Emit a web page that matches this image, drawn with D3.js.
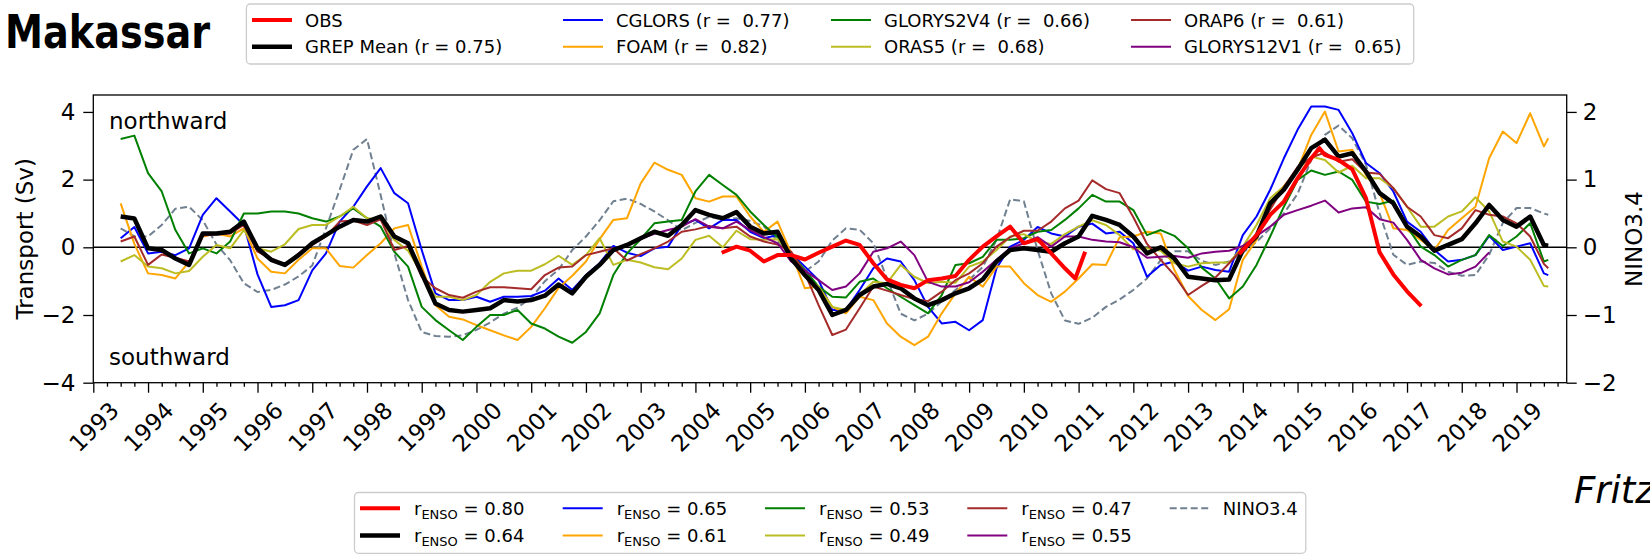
<!DOCTYPE html>
<html><head><meta charset="utf-8">
<script src="https://cdn.jsdelivr.net/npm/d3@7"></script>
<style>
body{margin:0;background:#fff;}
text{font-family:"DejaVu Sans",sans-serif;}
</style></head><body>
<svg id="chart" width="1650" height="555"></svg>
<script>
// ---------- DATA ----------
const dates = [1993.5,1993.75,
1994.0,1994.25,1994.5,1994.75, 1995.0,1995.25,1995.5,1995.75, 1996.0,1996.25,1996.5,1996.75,
1997.0,1997.25,1997.5,1997.75, 1998.0,1998.25,1998.5,1998.75, 1999.0,1999.25,1999.5,1999.75,
2000.0,2000.25,2000.5,2000.75, 2001.0,2001.25,2001.5,2001.75, 2002.0,2002.25,2002.5,2002.75,
2003.0,2003.25,2003.5,2003.75, 2004.0,2004.25,2004.5,2004.75, 2005.0,2005.25,2005.5,2005.75,
2006.0,2006.25,2006.5,2006.75, 2007.0,2007.25,2007.5,2007.75, 2008.0,2008.25,2008.5,2008.75,
2009.0,2009.25,2009.5,2009.75, 2010.0,2010.25,2010.5,2010.75, 2011.0,2011.25,2011.5,2011.75,
2012.0,2012.25,2012.5,2012.75, 2013.0,2013.25,2013.5,2013.75, 2014.0,2014.25,2014.5,2014.75,
2015.0,2015.25,2015.5,2015.75, 2016.0,2016.25,2016.5,2016.75, 2017.0,2017.25,2017.5,2017.75,
2018.0,2018.25,2018.5,2018.75, 2019.0,2019.25,2019.5,2019.58];

const grepMean = [0.91,0.85,
-0.03,-0.08,-0.33,-0.52, 0.41,0.41,0.46,0.76, -0.03,-0.37,-0.52,-0.23,
0.12,0.36,0.61,0.81, 0.76,0.91,0.32,0.12, -0.77,-1.66,-1.85,-1.9,
-1.85,-1.8,-1.56,-1.6, -1.56,-1.43,-1.1,-1.36, -0.87,-0.52,-0.08,0.07,
0.27,0.46,0.34,0.66, 1.1,0.96,0.86,1.04, 0.61,0.41,0.46,-0.33,
-0.82,-1.26,-2.0,-1.85, -1.41,-1.16,-1.08,-1.21, -1.51,-1.71,-1.56,-1.36,
-1.21,-0.95,-0.42,-0.08, -0.03,-0.08,-0.13,0.12, 0.32,0.93,0.81,0.66,
0.32,-0.18,0,-0.33, -0.87,-0.92,-0.97,-0.95, -0.08,0.32,1.3,1.7,
2.29,2.93,3.18,2.68, 2.78,2.24,1.6,1.3, 0.61,0.32,-0.1,0.07,
0.24,0.71,1.25,0.81, 0.61,0.91,0.07,0.05];

const cglors = [0.27,0.6,
-0.18,-0.13,-0.23,-0.03, 0.96,1.45,1.06,0.66, -0.8,-1.76,-1.71,-1.56,
-0.68,-0.18,0.76,1.2, 1.8,2.34,1.6,1.3, -0.08,-1.36,-1.56,-1.56,
-1.46,-1.61,-1.46,-1.46, -1.44,-1.28,-0.92,-1.26, -0.82,-0.47,0.04,-0.16,
-0.26,-0.03,0.02,0.66, 0.81,0.56,0.81,0.81, 0.46,0.27,0.36,-0.18,
-0.57,-0.97,-1.85,-1.85, -1.26,-0.62,-0.33,-0.42, -0.97,-1.76,-2.25,-2.2,
-2.45,-2.15,-0.62,0.02, 0.22,0.6,0.41,0.32, 0.61,0.7,0.41,0.46,
0.12,-0.87,-0.52,-0.42, -0.69,-0.57,-0.67,-0.72, 0.36,0.91,1.7,2.63,
3.47,4.16,4.16,4.06, 3.37,2.49,2.19,1.65, 0.76,0.46,-0.08,-0.42,
-0.37,-0.23,0.34,-0.08, 0.02,0.12,-0.77,-0.82];

const foam = [1.3,0.1,
-0.77,-0.82,-0.92,-0.42, 0.32,0.41,0.32,0.56, -0.33,-0.72,-0.77,-0.37,
-0.03,-0.03,-0.55,-0.6, -0.23,0.12,0.56,0.66, -0.57,-1.71,-2.05,-2.13,
-2.3,-2.45,-2.6,-2.74, -2.35,-1.8,-1.2,-0.84, -0.42,0.24,0.81,0.86,
1.89,2.5,2.29,2.14, 1.45,1.35,1.5,1.5, 0.91,0.46,0.76,-0.18,
-1.21,-1.16,-1.76,-1.95, -1.46,-1.56,-2.25,-2.64, -2.89,-2.64,-1.95,-1.36,
-0.87,-1.16,-0.57,-0.57, -1.06,-1.41,-1.61,-1.31, -0.92,-0.5,-0.52,0.3,
0.32,0.46,0.41,-0.67, -1.44,-1.85,-2.15,-1.83, -0.37,0.22,1.2,1.81,
2.29,3.32,4.01,2.83, 2.88,2.14,1.6,0.56, 0.51,0.22,-0.08,0.51,
0.86,1.2,2.63,3.42, 3.08,3.96,2.98,3.22];

const glorys2v4 = [3.2,3.3,
2.19,1.65,0.51,-0.18, -0.03,-0.18,0.17,1.0, 1.0,1.06,1.06,1.0,
0.86,0.76,0.91,1.15, 0.86,0.61,-0.13,-0.57, -1.76,-2.15,-2.45,-2.74,
-2.35,-2.0,-2.0,-1.85, -2.25,-2.4,-2.64,-2.82, -2.5,-1.95,-0.82,-0.18,
0.24,0.71,0.76,0.81, 1.65,2.14,1.84,1.55, 1.06,0.66,0.3,-0.2,
-0.67,-1.16,-1.46,-1.48, -1.02,-0.92,-1.21,-1.46, -1.71,-1.95,-1.41,-0.52,
-0.47,-0.28,0.22,0.22, 0.27,0.46,0.51,0.81, 1.15,1.55,1.35,1.35,
1.1,0.36,0.51,0.34, -0.03,-0.6,-0.92,-1.51, -1.16,-0.52,0.32,1.2,
1.99,2.27,2.14,2.24, 1.99,1.35,1.28,1.38, 0.61,0.02,-0.23,-0.57,
-0.37,-0.23,0.36,0.04, 0.32,0.71,-0.42,-0.37];

const oras5 = [-0.42,-0.23,
-0.57,-0.62,-0.77,-0.7, -0.28,0.07,-0.03,0.51, -0.03,-0.13,0.09,0.54,
0.66,0.66,0.91,1.2, 0.86,0.81,0.22,-0.1, -0.77,-1.46,-1.46,-1.56,
-1.41,-1.02,-0.77,-0.69, -0.69,-0.5,-0.25,-0.52, -0.23,0.27,-0.52,-0.37,
-0.45,-0.59,-0.65,-0.33, 0.22,0.34,0,0.49, 0.24,0.22,0.24,-0.2,
-0.87,-1.16,-1.76,-1.85, -1.41,-1.02,-1.06,-0.52, -0.87,-1.06,-1.02,-1.05,
-0.57,-0.42,-0.08,0.32, 0.39,0.17,0.1,0.39, 0.61,0.8,0.66,0.36,
-0.06,-0.03,-0.1,-0.47, -0.57,-0.47,-0.45,-0.45, 0.02,0.66,1.45,1.8,
2.29,2.68,2.58,2.21, 2.41,2.04,2.04,1.75, 1.2,0.61,0.61,0.91,
1.06,1.48,1.06,0.17, 0.02,-0.37,-1.14,-1.16];

const orap6 = [0.17,0.32,
-0.52,-0.21,-0.31,-0.42, 0.35,0.38,0.41,0.66, -0.13,-0.33,-0.52,-0.18,
0.07,0.32,0.76,0.79, 0.66,0.83,-0.08,0.04, -0.87,-1.21,-1.41,-1.49,
-1.31,-1.18,-1.18,-1.21, -1.24,-0.82,-0.6,-0.57, -0.23,-0.13,-0.03,-0.39,
-0.2,-0.03,0.17,0.46, 0.53,0.63,0.56,0.61, 0.32,0.17,0.08,-0.13,
-0.77,-1.71,-2.59,-2.43, -1.8,-1.16,-1.28,-1.41, -1.53,-1.59,-1.31,-0.97,
-0.77,-0.47,0.02,0.3, 0.49,0.49,0.76,1.15, 1.38,1.98,1.72,1.6,
0.89,0.1,-0.37,-0.82, -1.41,-1.14,-0.89,-0.47, -0.03,0.3,1.12,1.78,
2.37,2.65,2.8,2.53, 2.6,2.21,2.17,1.75, 1.2,0.91,0.36,0.27,
0.56,1.1,0.96,0.91, 0.71,0.32,-0.49,-0.62];

const glorys12v1 = [null,null,
null,null,null,null, null,null,null,null, null,null,null,null,
null,null,null,null, null,null,null,null, null,null,null,null,
null,null,null,null, null,null,null,null, null,null,null,null,
0.25,0.4,0.51,0.61, 0.83,0.61,0.56,0.76, 0.51,0.3,0.12,-0.42,
-0.69,-0.97,-1.26,-1.16, -0.77,-0.13,-0.03,0.17, -0.23,-1.02,-1.16,-1.16,
-1.03,-0.72,-0.37,-0.03, 0.12,0.3,0.02,0.32, 0.32,0.22,0.17,0.15,
0,-0.31,-0.28,-0.26, -0.31,-0.18,-0.13,-0.1, 0.04,0.34,0.61,0.96,
1.1,1.23,1.38,1.03, 1.15,1.18,0.83,0.73, 0.22,-0.37,-0.62,-0.8,
-0.75,-0.57,-0.15,null, null,null,null,null];

const nino34 = [0.28,0.16,
0.16,0.33,0.57,0.6, 0.4,0.04,-0.19,-0.53, -0.66,-0.63,-0.55,-0.43,
-0.27,0.28,0.85,1.44, 1.6,0.77,-0.09,-0.78, -1.25,-1.31,-1.32,-1.3,
-1.22,-1.11,-0.98,-0.89, -0.75,-0.5,-0.33,-0.04, 0.16,0.4,0.68,0.72,
0.64,0.53,0.4,0.25, 0.36,0.45,0.41,0.43, 0.39,0.31,0.1,-0.16,
-0.36,-0.21,0.1,0.28, 0.26,0.06,-0.46,-0.98, -1.08,-0.98,-0.8,-0.63,
-0.48,-0.29,0.11,0.71, 0.68,-0.04,-0.68,-1.08, -1.13,-1.04,-0.88,-0.77,
-0.63,-0.46,-0.19,-0.06, -0.06,-0.2,-0.26,-0.21, -0.08,0.08,0.28,0.5,
0.79,1.29,1.66,1.8, 1.61,1.22,0.5,-0.11, -0.26,-0.21,-0.23,-0.36,
-0.42,-0.41,-0.11,0.36, 0.58,0.58,0.5,0.48];

const obsDates = [2004.48,2004.75,2005.0,2005.25,2005.5,2005.75,2006.0,2006.25,2006.5,2006.75,
2007.0,2007.25,2007.5,2007.75,2008.0,2008.25,2008.5,2008.75,2009.0,2009.25,2009.5,2009.75,
2010.0,2010.25,2010.5,2010.75,2010.94,2011.12,2012.5,2013.93,2014.0,2014.25,2014.5,2014.75,
2015.0,2015.25,2015.4,2015.5,2015.75,2016.0,2016.25,2016.5,2016.75,2017.0,2017.26];
const obsValues = [-0.16,0.02,-0.1,-0.42,-0.23,-0.23,-0.36,-0.16,0.02,0.2,
0.07,-0.47,-0.95,-1.11,-1.21,-0.97,-0.92,-0.85,-0.37,0.02,0.32,0.61,
0.12,0.24,-0.18,-0.62,-0.92,-0.13,null,-0.2,-0.08,0.36,0.96,1.35,
2.04,2.63,2.93,2.73,2.58,2.3,1.45,-0.15,-0.8,-1.3,-1.74];

const topLegendLabels = [["OBS","GREP Mean (r = 0.75)"],["CGLORS (r =  0.77)","FOAM (r =  0.82)"],
  ["GLORYS2V4 (r =  0.66)","ORAS5 (r =  0.68)"],["ORAP6 (r =  0.61)","GLORYS12V1 (r =  0.65)"]];
const ensoR = [["0.80","0.64"],["0.65","0.61"],["0.53","0.49"],["0.47","0.55"]];
const yearTicks = [1993,1994,1995,1996,1997,1998,1999,2000,2001,2002,2003,2004,2005,2006,2007,2008,2009,2010,2011,2012,2013,2014,2015,2016,2017,2018,2019];
const leftTicks = [-4,-2,0,2,4];
const rightTicks = [-2,-1,0,1,2];

// ---------- STYLE ----------
const C = {obs:"#ff0000", grep:"#000000", cglors:"#0000ff", foam:"#ffa500", g2:"#008000",
  oras5:"#bcbd22", orap6:"#a52a2a", g12:"#800080", nino:"#708090"};
const colGrid = [[C.obs,C.grep],[C.cglors,C.foam],[C.g2,C.oras5],[C.orap6,C.g12]];
const wGrid = [[4,4.5],[2,2],[2,2],[2,2]];

const svg = d3.select("#chart");
const W = 1650, H = 555;
svg.append("rect").attr("width",W).attr("height",H).attr("fill","#fff");
const L = 93.3, R = 1566.7, T = 95, B = 382.7;
const x = d3.scaleLinear().domain([1993, 2019.917]).range([L, R]);
const y = d3.scaleLinear().domain([-4, 4.5]).range([B, T]);
const y2 = d3.scaleLinear().domain([-2, 2.25]).range([B, T]);
const minus = d => d < 0 ? "\u2212" + Math.abs(d) : String(d);

// zero line
svg.append("line").attr("x1",L).attr("x2",R).attr("y1",y(0)).attr("y2",y(0))
  .attr("stroke","#000").attr("stroke-width",1.4);

const mk = (yy) => d3.line().defined(d => d[1] != null).x(d => x(d[0])).y(d => yy(d[1]));
const pairs = (vals) => dates.map((d,i) => [d, vals[i]]);
const g = svg.append("g");
function draw(data, yy, color, w, dash){
  g.append("path").datum(data).attr("d", mk(yy)).attr("fill","none").attr("stroke",color)
    .attr("stroke-width",w).attr("stroke-linejoin","round").attr("stroke-dasharray",dash||null);
}
draw(pairs(nino34), y2, C.nino, 2, "7,3.5");
draw(pairs(cglors), y, C.cglors, 2);
draw(pairs(foam), y, C.foam, 2);
draw(pairs(glorys2v4), y, C.g2, 2);
draw(pairs(oras5), y, C.oras5, 2);
draw(pairs(orap6), y, C.orap6, 2);
draw(pairs(glorys12v1), y, C.g12, 2);
draw(pairs(grepMean), y, C.grep, 4.5);
draw(obsDates.map((d,i)=>[d, obsValues[i]]), y, C.obs, 4);

// frame
svg.append("rect").attr("x",L).attr("y",T).attr("width",R-L).attr("height",B-T)
  .attr("fill","none").attr("stroke","#000").attr("stroke-width",1.3);

function styleAxis(sel){
  sel.select(".domain").remove();
  sel.selectAll("line").attr("stroke","#000").attr("stroke-width",1.3);
  sel.selectAll("text").attr("font-family","DejaVu Sans").attr("font-size",23).attr("fill","#000");
}
const ax1 = svg.append("g").attr("transform",`translate(${L},0)`)
  .call(d3.axisLeft(y).tickValues(leftTicks).tickSize(10).tickPadding(8).tickFormat(minus));
styleAxis(ax1);
const ax2 = svg.append("g").attr("transform",`translate(${R},0)`)
  .call(d3.axisRight(y2).tickValues(rightTicks).tickSize(10).tickPadding(6).tickFormat(minus));
styleAxis(ax2);
const quarters = d3.range(1993, 2019.9, 0.25).filter(d => Math.abs(d - Math.round(d)) > 0.01);
const axm = svg.append("g").attr("transform",`translate(0,${B})`)
  .call(d3.axisBottom(x).tickValues(quarters).tickSize(4).tickFormat(""));
styleAxis(axm);
const axb = svg.append("g").attr("transform",`translate(0,${B})`)
  .call(d3.axisBottom(x).tickValues(yearTicks).tickSize(10).tickFormat(d3.format("d")));
styleAxis(axb);
axb.selectAll("text").attr("y",0).attr("dy","0.36em").attr("text-anchor","middle")
  .attr("transform","translate(0,44) rotate(-45)");

// axis labels
svg.append("text").attr("transform","translate(32.5,238.8) rotate(-90)").attr("text-anchor","middle")
  .attr("font-size",23).text("Transport (Sv)");
svg.append("text").attr("transform","translate(1641.5,239) rotate(-90)").attr("text-anchor","middle")
  .attr("font-size",23).text("NINO3.4");
svg.append("text").attr("x",109).attr("y",129).attr("font-size",23).text("northward");
svg.append("text").attr("x",109).attr("y",365).attr("font-size",23).text("southward");

// title
svg.append("text").attr("x",5).attr("y",48).attr("font-family","Inter, 'DejaVu Sans', sans-serif")
  .attr("font-weight",700).attr("font-size",46).attr("textLength",205)
  .attr("lengthAdjust","spacingAndGlyphs").text("Makassar");
// partially visible credit text at the right edge (clipped in the reference too)
svg.append("text").attr("x",1574).attr("y",503).attr("font-family","'Open Sans', 'DejaVu Sans', sans-serif")
  .attr("font-style","italic").attr("font-size",37).text("Fritz");

// top legend
svg.append("rect").attr("x",246.4).attr("y",4).attr("width",1413.7-246.4).attr("height",60)
  .attr("rx",4).attr("fill","#fff").attr("stroke","#cccccc").attr("stroke-width",1.3);
const tCols = [252, 563, 831, 1131], tRows = [20, 46.7];
topLegendLabels.forEach((col,ci) => col.forEach((lab,ri) => {
  svg.append("line").attr("x1",tCols[ci]).attr("x2",tCols[ci]+40).attr("y1",tRows[ri]).attr("y2",tRows[ri])
    .attr("stroke",colGrid[ci][ri]).attr("stroke-width",wGrid[ci][ri]);
  svg.append("text").attr("x",tCols[ci]+53).attr("y",tRows[ri]+6.6).attr("font-size",18)
    .attr("xml:space","preserve").style("white-space","pre").text(lab);
}));

// bottom legend
svg.append("rect").attr("x",354.5).attr("y",492.5).attr("width",1305.8-354.5).attr("height",60.8)
  .attr("rx",4).attr("fill","#fff").attr("stroke","#cccccc").attr("stroke-width",1.3);
const bCols = [360, 562.7, 765, 967.3, 1169.7], bRows = [508.3, 535.5];
ensoR.forEach((col,ci) => col.forEach((r,ri) => {
  svg.append("line").attr("x1",bCols[ci]).attr("x2",bCols[ci]+40).attr("y1",bRows[ri]).attr("y2",bRows[ri])
    .attr("stroke",colGrid[ci][ri]).attr("stroke-width",wGrid[ci][ri]);
  const t = svg.append("text").attr("x",bCols[ci]+54).attr("y",bRows[ri]+6.6).attr("font-size",18)
    .attr("xml:space","preserve").style("white-space","pre");
  t.append("tspan").text("r");
  t.append("tspan").attr("font-size",13).attr("dy",4).text("ENSO");
  t.append("tspan").attr("dy",-4).text(" = " + r);
}));
svg.append("line").attr("x1",bCols[4]).attr("x2",bCols[4]+40).attr("y1",bRows[0]).attr("y2",bRows[0])
  .attr("stroke",C.nino).attr("stroke-width",2).attr("stroke-dasharray","7,3.5");
svg.append("text").attr("x",bCols[4]+53).attr("y",bRows[0]+6.6).attr("font-size",18).text("NINO3.4");
</script>
</body></html>
